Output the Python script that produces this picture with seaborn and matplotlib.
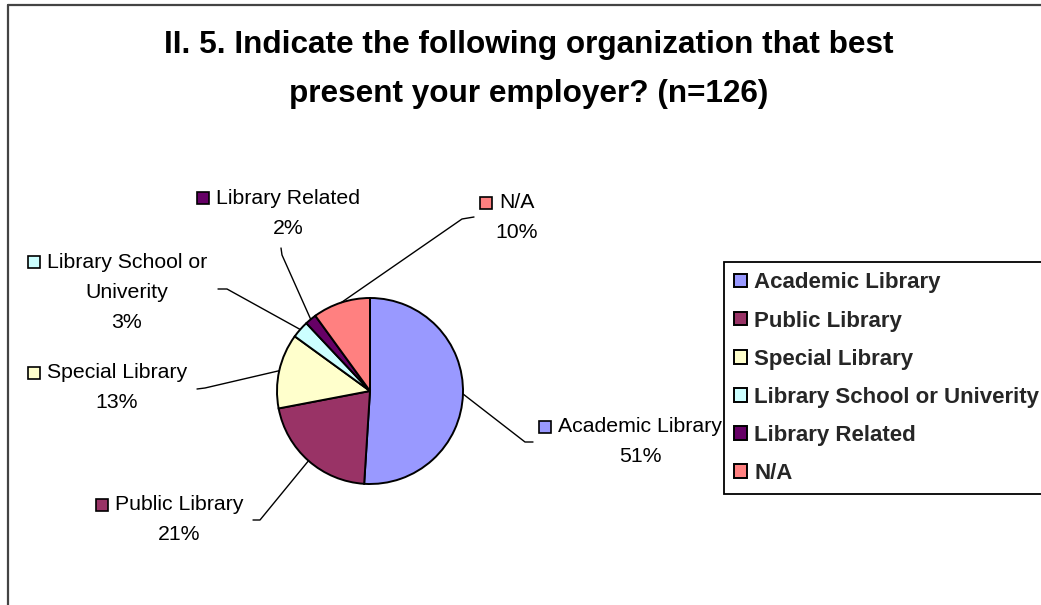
import matplotlib
matplotlib.use("Agg")
import numpy as np
import matplotlib.pyplot as plt
import seaborn as sns
from matplotlib.lines import Line2D
from matplotlib.patches import Rectangle

# ---- data ----
categories = ["Academic Library", "Public Library", "Special Library",
              "Library School or Univerity", "Library Related", "N/A"]
percentages = [51, 21, 13, 3, 2, 10]
slice_colors = ["#9999FF", "#993366", "#FFFFCC", "#CCFFFF", "#660066", "#FF8080"]
title_lines = ["II. 5. Indicate the following organization that best",
               "present your employer? (n=126)"]
label_text_lines = [["Academic Library"], ["Public Library"], ["Special Library"],
                    ["Library School or", "Univerity"], ["Library Related"], ["N/A"]]

# ---- layout (pixel coordinates, origin top-left) ----
W, H = 1041, 605
pie_center = (370, 391)
pie_radius = 93
label_anchor = [(640, 427), (179, 505), (117, 373), (127, 262), (288, 198), (517, 203)]
leader_elbow = [(525, 442), (260, 520), (205, 388), (227, 289), (282, 255), (462, 219)]
leader_end = [(533, 442), (253, 520), (197, 389), (218, 289), (281, 248), (474, 217)]
line_pitch = 30

sns.set_theme(style="white")
plt.rcParams["font.family"] = ["Liberation Sans", "DejaVu Sans"]

fig = plt.figure(figsize=(W / 100, H / 100), dpi=100)
fig.patch.set_facecolor("white")
ax = fig.add_axes([0, 0, 1, 1])


def Y(y):
    return H - y


wedges, _ = ax.pie(percentages, colors=slice_colors, startangle=90, counterclock=False,
                   center=(pie_center[0], Y(pie_center[1])), radius=pie_radius,
                   wedgeprops=dict(edgecolor="black", linewidth=1.4))
ax.set_xlim(0, W)
ax.set_ylim(0, H)
ax.set_aspect("auto")
ax.axis("off")

# title
for i, line in enumerate(title_lines):
    ax.text(529, Y(53 + i * 49), line, ha="center", va="baseline",
            fontsize=22.7, fontweight="bold", color="black")

# data labels with leader lines
label_texts = []
for k, w in enumerate(wedges):
    mid = np.deg2rad((w.theta1 + w.theta2) / 2)
    ex = pie_center[0] + pie_radius * np.cos(mid)
    ey = pie_center[1] - pie_radius * np.sin(mid)
    xs = [ex, leader_elbow[k][0], leader_end[k][0]]
    ys = [Y(ey), Y(leader_elbow[k][1]), Y(leader_end[k][1])]
    ax.add_line(Line2D(xs, ys, color="black", lw=1.0))

    cx, cy = label_anchor[k]
    lines = label_text_lines[k] + [f"{percentages[k]}%"]
    first = None
    for j, s in enumerate(lines):
        t = ax.text(cx, Y(cy + j * line_pitch), s, ha="center", va="center",
                    fontsize=15.3, color="black")
        if j == 0:
            first = t
    label_texts.append((first, k))

fig.canvas.draw()
renderer = fig.canvas.get_renderer()
inv = ax.transData.inverted()
for t, k in label_texts:
    bb = t.get_window_extent(renderer)
    x0, _ = inv.transform((bb.x0, bb.y0))
    sq = 12
    cy = label_anchor[k][1]
    ax.add_patch(Rectangle((x0 - 7 - sq, Y(cy) - sq / 2), sq, sq,
                           facecolor=slice_colors[k], edgecolor="black", lw=1.2))

# legend
leg = ax.legend(wedges, categories, loc="upper left",
                bbox_to_anchor=(724 / W, 1 - 262 / H), bbox_transform=fig.transFigure,
                prop=dict(family="Liberation Sans", weight="bold", size=16),
                frameon=True, fancybox=False, shadow=False, framealpha=1,
                edgecolor="black", borderpad=0.47, borderaxespad=0,
                handlelength=0.55, handleheight=0.55, handletextpad=0.35,
                labelspacing=0.77)
leg.get_frame().set_linewidth(1.3)

# chart-area frame
fig.add_artist(Line2D([8 / W, 1], [1 - 5 / H, 1 - 5 / H], transform=fig.transFigure,
                      color="#444444", lw=1.6))
fig.add_artist(Line2D([8 / W, 8 / W], [0, 1 - 5 / H], transform=fig.transFigure,
                      color="#444444", lw=1.6))

fig.savefig("out.png", dpi=100, facecolor="white")
